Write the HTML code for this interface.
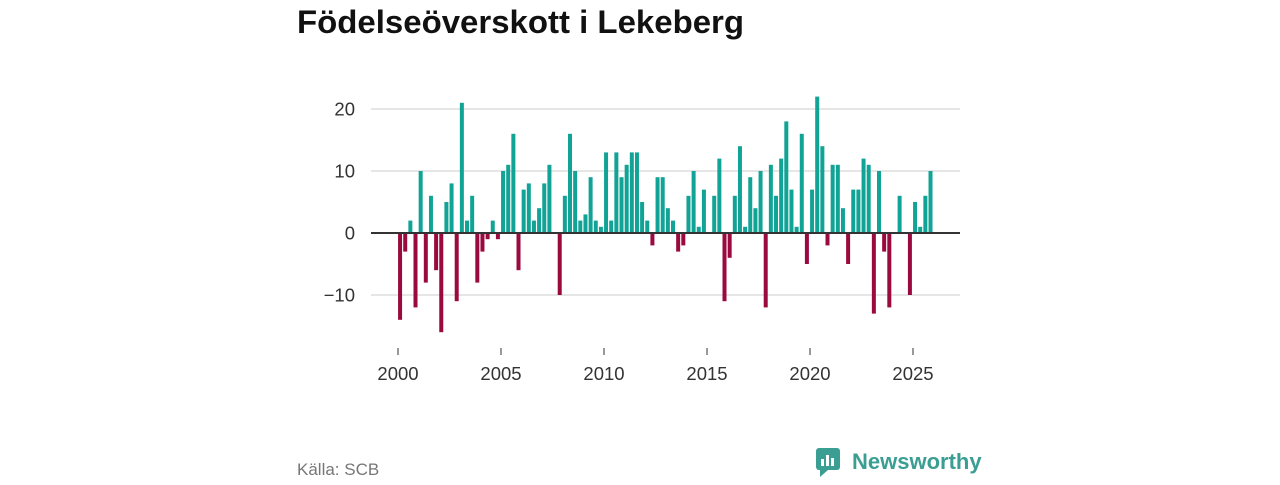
<!DOCTYPE html>
<html><head><meta charset="utf-8">
<style>
body{margin:0;width:1280px;height:480px;background:#fff;overflow:hidden;font-family:"Liberation Sans","DejaVu Sans",sans-serif;}
</style></head>
<body>
<svg id="chart" width="1280" height="480" xmlns="http://www.w3.org/2000/svg">
<text x="297" y="33" font-size="32.5" font-weight="bold" fill="#111" font-family="Liberation Sans, sans-serif" textLength="447" lengthAdjust="spacingAndGlyphs">Födelseöverskott i Lekeberg</text>
<g id="grid"></g><g id="bars"></g><g id="axes"></g>
<text x="297" y="475" font-size="17" fill="#777">Källa: SCB</text>
<g>
<rect x="816" y="448" width="24" height="22" rx="3" fill="#3a9e92"/>
<polygon points="820,470 828,470 820,477" fill="#3a9e92"/>
<rect x="821" y="459" width="3" height="7" fill="#fff"/><rect x="826" y="455" width="3" height="11" fill="#fff"/><rect x="831" y="458" width="3" height="8" fill="#fff"/>
<text x="852" y="469" font-size="22" font-weight="bold" fill="#3a9e92">Newsworthy</text>
</g>
</svg>
<script>
const years=[2000,2005,2010,2015,2020,2025];
const yTicks=[-10,0,10,20];
const values2000_2004=[-14,-3,2,-12, 10,-8,6,-6, -16,5,8,-11, 21,2,6,-8, -3,-1,2,-1];
const values2005_2009=[10,11,16,-6, 7,8,2,4, 8,11,0,-10, 6,16,10,2, 3,9,2,1];
const values2010_2014=[13,2,13,9, 11,13,13,5, 2,-2,9,9, 4,2,-3,-2, 6,10,1,7];
const values2015_2019=[0,6,12,-11, -4,6,14,1, 9,4,10,-12, 11,6,12,18, 7,1,16,-5];
const values2020_2025=[7,22,14,-2, 11,11,4,-5, 7,7,12,11, -13,10,-3,-12, 0,6,0,-10, 5,1,6,10];
const values=[].concat(values2000_2004,values2005_2009,values2010_2014,values2015_2019,values2020_2025);
const NS="http://www.w3.org/2000/svg";
const xs=t=>398+(t-2000)*20.6;
const ys=v=>233-v*6.2;
const grid=document.getElementById('grid'),bars=document.getElementById('bars'),axes=document.getElementById('axes');
function mk(tag,attrs,parent){const e=document.createElementNS(NS,tag);for(const k in attrs)e.setAttribute(k,attrs[k]);parent.appendChild(e);return e;}
yTicks.forEach(v=>{
  if(v!==0){const l=mk('line',{x1:371,x2:960,y1:ys(v),y2:ys(v),stroke:'#ddd','stroke-width':1.5},grid);
  
  }
  const t=mk('text',{x:355,y:ys(v)+6.5,'text-anchor':'end','font-size':18.5,fill:'#333'},axes);
  
  
  t.textContent=v<0?'−'+Math.abs(v):String(v);
});
years.forEach(y=>{
  const tk=mk('line',{x1:xs(y),x2:xs(y),y1:348,y2:355,stroke:'#333','stroke-width':1},axes);
  
  
  const t=mk('text',{x:xs(y),y:380,'text-anchor':'middle','font-size':18.5,fill:'#333'},axes);
  
  
  t.textContent=y;
});
values.forEach((v,i)=>{
  if(v===0)return;
  const cx=xs(2000+i/4+0.1);
  const r=mk('rect',{x:cx-2,width:4,y:Math.min(ys(v),ys(0)),height:Math.abs(ys(v)-ys(0)),fill:v>0?'#11a395':'#9b0a3e'},bars);
  
  
});
const z=mk('line',{x1:371,x2:960,y1:ys(0),y2:ys(0),stroke:'#333','stroke-width':2},axes);


</script>
</body></html>
